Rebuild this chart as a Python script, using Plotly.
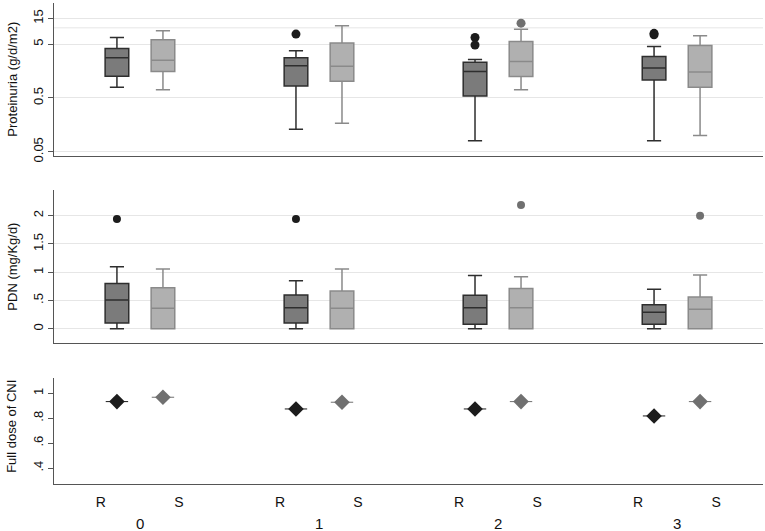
import plotly.graph_objects as go

groups = ["0", "1", "2", "3"]
series = ["R", "S"]

# Proteinuria (g/d/m2) - box statistics per group
prot_R_low = [0.79, 0.131, 0.080, 0.080]
prot_R_q1 = [1.26, 0.83, 0.54, 1.08]
prot_R_med = [2.79, 1.97, 1.54, 1.80]
prot_R_q3 = [4.15, 2.79, 2.29, 2.95]
prot_R_high = [6.6, 3.76, 2.57, 4.5]
prot_R_out_grp = [1, 2, 2, 3, 3]
prot_R_out_val = [7.65, 6.6, 4.8, 7.9, 7.4]

prot_S_low = [0.71, 0.169, 0.71, 0.10]
prot_S_q1 = [1.54, 1.02, 1.25, 0.79]
prot_S_med = [2.49, 1.94, 2.38, 1.52]
prot_S_q3 = [6.0, 5.2, 5.58, 4.7]
prot_S_high = [8.8, 10.9, 9.45, 7.1]
prot_S_out_grp = [2]
prot_S_out_val = [12.2]

# PDN (mg/Kg/d)
pdn_R_low = [0, 0, 0, 0]
pdn_R_q1 = [0.10, 0.10, 0.077, 0.077]
pdn_R_med = [0.507, 0.37, 0.37, 0.29]
pdn_R_q3 = [0.80, 0.595, 0.59, 0.425]
pdn_R_high = [1.095, 0.85, 0.943, 0.70]
pdn_R_out_grp = [0, 1]
pdn_R_out_val = [1.94, 1.94]

pdn_S_low = [0, 0, 0, 0]
pdn_S_q1 = [0, 0, 0, 0]
pdn_S_med = [0.36, 0.36, 0.37, 0.343]
pdn_S_q3 = [0.725, 0.666, 0.713, 0.56]
pdn_S_high = [1.055, 1.055, 0.92, 0.95]
pdn_S_out_grp = [2, 3]
pdn_S_out_val = [2.19, 2.0]

# Full dose of CNI (proportion)
cni_R = [0.933, 0.874, 0.874, 0.818]
cni_S = [0.968, 0.928, 0.933, 0.933]

prot_ticks = [0.05, 0.5, 5, 15]
prot_ticktext = ["0.05", "0.5", "5", "15"]
pdn_ticks = [0, 0.5, 1, 1.5, 2]
pdn_ticktext = ["0", ".5", "1", "1.5", "2"]
cni_ticks = [0.4, 0.6, 0.8, 1.0]
cni_ticktext = [".4", ".6", ".8", "1"]

# style
BOX_OFF = 0.1285
LBL_OFF = 0.218
BOX_W = 0.132
R_FILL, R_LINE, R_PT = "#7b7b7b", "#2e2e2e", "#1c1c1c"
S_FILL, S_LINE, S_PT = "#b0b0b0", "#8a8a8a", "#707070"
FONT = "Liberation Sans, Arial, Helvetica, sans-serif"
AX = "#555555"
GRID = "#e6e6e6"

gx = list(range(len(groups)))
xR = [g - BOX_OFF for g in gx]
xS = [g + BOX_OFF for g in gx]

fig = go.Figure()


def add_box(x, low, q1, med, q3, high, fill, line, xa, ya):
    fig.add_trace(go.Box(
        x=x, lowerfence=low, q1=q1, median=med, q3=q3, upperfence=high,
        width=BOX_W, whiskerwidth=0.6, fillcolor=fill,
        line=dict(color=line, width=1.5), boxpoints=False,
        xaxis=xa, yaxis=ya, showlegend=False, hoverinfo="skip"))


def add_out(grp, val, off, color, size, xa, ya):
    fig.add_trace(go.Scatter(
        x=[g + off for g in grp], y=val, mode="markers",
        marker=dict(color=color, size=size, symbol="circle"),
        xaxis=xa, yaxis=ya, showlegend=False, hoverinfo="skip"))


# top panel
add_box(xR, prot_R_low, prot_R_q1, prot_R_med, prot_R_q3, prot_R_high, R_FILL, R_LINE, "x", "y")
add_box(xS, prot_S_low, prot_S_q1, prot_S_med, prot_S_q3, prot_S_high, S_FILL, S_LINE, "x", "y")
add_out(prot_R_out_grp, prot_R_out_val, -BOX_OFF, R_PT, 9, "x", "y")
add_out(prot_S_out_grp, prot_S_out_val, BOX_OFF, S_PT, 9, "x", "y")

# middle panel
add_box(xR, pdn_R_low, pdn_R_q1, pdn_R_med, pdn_R_q3, pdn_R_high, R_FILL, R_LINE, "x2", "y2")
add_box(xS, pdn_S_low, pdn_S_q1, pdn_S_med, pdn_S_q3, pdn_S_high, S_FILL, S_LINE, "x2", "y2")
add_out(pdn_R_out_grp, pdn_R_out_val, -BOX_OFF, R_PT, 8, "x2", "y2")
add_out(pdn_S_out_grp, pdn_S_out_val, BOX_OFF, S_PT, 8, "x2", "y2")

# bottom panel
for xs, vals, col in [(xR, cni_R, R_PT), (xS, cni_S, S_PT)]:
    fig.add_trace(go.Scatter(
        x=xs, y=vals, mode="markers",
        marker=dict(symbol="line-ew", size=16, line=dict(width=1, color=col)),
        xaxis="x3", yaxis="y3", showlegend=False, hoverinfo="skip"))
    fig.add_trace(go.Scatter(
        x=xs, y=vals, mode="markers",
        marker=dict(symbol="diamond", size=12, color=col),
        xaxis="x3", yaxis="y3", showlegend=False, hoverinfo="skip"))

xrange = [-0.48, len(groups) - 1 + 0.48]
lbl_vals, lbl_text = [], []
for g in gx:
    lbl_vals += [g - LBL_OFF, g + LBL_OFF]
    lbl_text += series

common_x = dict(range=xrange, showgrid=False, zeroline=False, showline=True,
                linecolor=AX, linewidth=1, fixedrange=True)
common_y = dict(showline=True, linecolor=AX, linewidth=1, ticks="outside",
                ticklen=5, tickcolor=AX, tickangle=-90, zeroline=False,
                tickfont=dict(size=13, color="#111"), gridcolor=GRID, gridwidth=1)

fig.update_layout(
    width=765, height=531,
    margin=dict(l=54, r=2, t=0, b=47),
    paper_bgcolor="white", plot_bgcolor="white",
    font=dict(family=FONT, size=13, color="#111"),
    boxmode="overlay",
    xaxis=dict(**common_x, anchor="y", showticklabels=False, ticks=""),
    xaxis2=dict(**common_x, anchor="y2", showticklabels=False, ticks=""),
    xaxis3=dict(**common_x, anchor="y3", tickvals=lbl_vals, ticktext=lbl_text,
                ticks="outside", ticklen=5, tickcolor="rgba(0,0,0,0)",
                tickfont=dict(size=14, color="#111")),
    yaxis=dict(**common_y, domain=[0.6777, 0.9938], type="log",
               range=[-1.38, 1.461], tickvals=prot_ticks, ticktext=prot_ticktext),
    yaxis2=dict(**common_y, domain=[0.2913, 0.6074], range=[-0.253, 2.454],
                tickvals=pdn_ticks, ticktext=pdn_ticktext),
    yaxis3=dict(**common_y, domain=[0.0, 0.2184], range=[0.272, 1.12],
                tickvals=cni_ticks, ticktext=cni_ticktext, showgrid=False),
)

# extra unlabeled gridline at 10 in proteinuria panel
fig.add_shape(type="line", xref="x domain", yref="y", x0=0, x1=1, y0=10, y1=10,
              line=dict(color=GRID, width=1), layer="below")

# y titles
for txt, yc in [("Proteinuria (g/d/m2)", (0.6777 + 0.9938) / 2),
                ("PDN (mg/Kg/d)", (0.2913 + 0.6074) / 2),
                ("Full dose of CNI", 0.1184)]:
    fig.add_annotation(text=txt, xref="paper", yref="paper", x=-0.059, y=yc,
                       textangle=-90, showarrow=False, xanchor="center",
                       yanchor="middle", font=dict(size=13, color="#111"))

# group labels
for g, name in zip(gx, groups):
    fig.add_annotation(text=name, xref="x3", yref="paper", x=g, y=-0.0806,
                       showarrow=False, xanchor="center", yanchor="middle",
                       font=dict(size=15, color="#111"))

fig.write_html("out.html", config={"displayModeBar": False},
               post_script="document.body.style.margin='0px';")
